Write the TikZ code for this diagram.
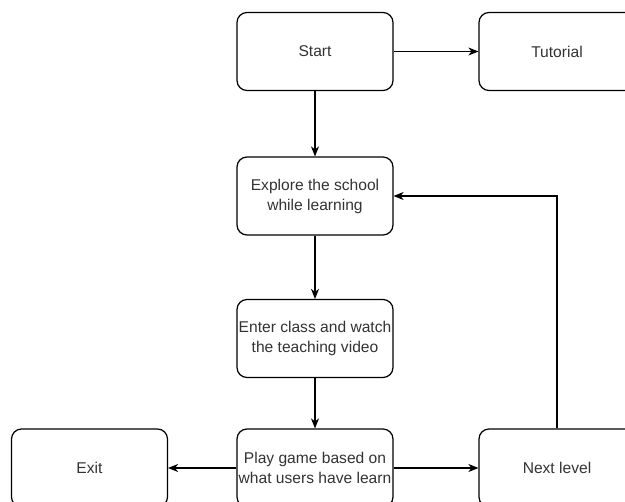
\documentclass[tikz,border=0pt]{standalone}
\usepackage{fontspec}
\setmainfont{Liberation Sans}
\usetikzlibrary{arrows.meta}
\definecolor{txt}{HTML}{333333}
\tikzset{
  box/.style={draw=black, line width=1.2pt, rounded corners=10pt, minimum width=156pt, minimum height=78pt, inner sep=0pt, align=center, text=txt, font=\fontsize{15.6}{20}\selectfont},
  conn/.style={draw=black, line width=1.2pt, -{Stealth[length=10pt,width=8pt,inset=3pt]}}
}
\begin{document}
\begin{tikzpicture}[x=1pt,y=-1pt]
\useasboundingbox (0,0) rectangle (625,502);
\clip (0,0) rectangle (625,502);
\fill[white] (0,0) rectangle (625,502);
\node[box] (start) at (315,51.5) {Start};
\node[box] (tut) at (557,51.5) {Tutorial};
\node[box] (explore) at (315,196) {Explore the school\\while learning};
\node[box] (enter) at (315,338.5) {Enter class and watch\\the teaching video};
\node[box] (play) at (315,468) {Play game based on\\what users have learn};
\node[box] (exit) at (89.5,468) {Exit};
\node[box] (next) at (557,468) {Next level};
\draw[conn] (start) -- (tut);
\draw[conn] (start) -- (explore);
\draw[conn] (explore) -- (enter);
\draw[conn] (enter) -- (play);
\draw[conn] (play) -- (exit);
\draw[conn] (play) -- (next);
\draw[conn] (next.north) |- (explore.east);
\end{tikzpicture}
\end{document}
